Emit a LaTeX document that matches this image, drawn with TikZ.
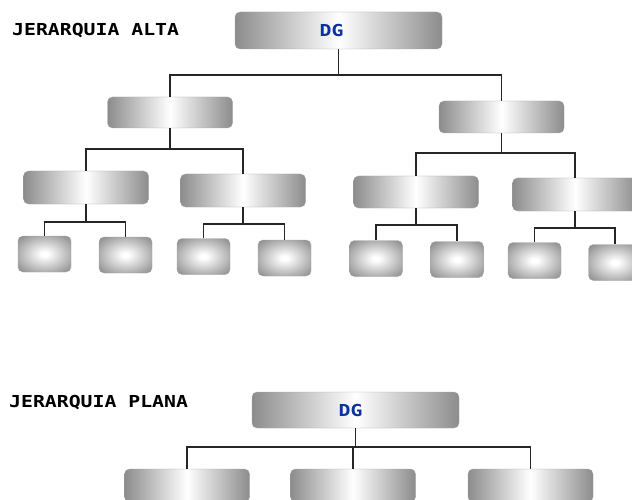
\documentclass[tikz,border=0pt]{standalone}
\usepackage{fontspec}
\usepackage{tikz}
\usetikzlibrary{positioning}
\newfontfamily\pixfont[FakeStretch=1.2]{DejaVu Sans Mono}
\definecolor{dgblue}{RGB}{10, 50, 160}
\definecolor{boxedge}{RGB}{165, 165, 165}
% glow for the small square boxes
\pgfdeclareradialshading{boxglow}{\pgfpoint{0bp}{0bp}}{color(0bp)=(white); color(3bp)=(white); color(34bp)=(black!45); color(50bp)=(black!52)}

\begin{document}
\begin{tikzpicture}[x=1pt, y=-1pt,
  widebox/.style={draw=boxedge, rounded corners=5pt, left color=black!45, right color=black!45, middle color=white, minimum width=125pt, minimum height=32pt, inner sep=0pt},
  smallbox/.style={draw=boxedge, rounded corners=5pt, shading=boxglow, minimum width=53pt, minimum height=36pt, inner sep=0pt},
  link/.style={draw=black!85, line width=1.5pt},
  title/.style={font=\pixfont\bfseries\fontsize{16.5}{18}\selectfont, anchor=west, inner sep=0pt},
  dgtext/.style={font=\pixfont\bfseries\fontsize{16.5}{18}\selectfont, text=dgblue, inner sep=0pt}
]
  \clip (0,0) rectangle (632,500);

  % Tall hierarchy
  \node[title] (alta) at (12, 31) {JERARQUIA ALTA};
  \node[widebox, minimum width=207pt, minimum height=37pt] (dg) at (338.5, 30.5) {};
  \node[dgtext] (dglabel) at ([xshift=-7pt]dg.center) {DG};

  \node[widebox, minimum height=31pt] (a1) at (170, 112.5) {};
  \node[widebox] (a2) at (501.5, 117) {};

  \node[widebox, minimum height=33pt] (b1) at (86, 187.5) {};
  \node[widebox, minimum height=33pt] (b2) at (243, 190.5) {};
  \node[widebox] (b3) at (416, 192) {};
  \node[widebox, minimum height=33pt] (b4) at (575, 194.5) {};

  \node[smallbox] (c1) at (44.5, 254) {};
  \node[smallbox] (c2) at (125.5, 255) {};
  \node[smallbox] (c3) at (203.5, 256.5) {};
  \node[smallbox] (c4) at (284.5, 258) {};
  \node[smallbox] (c5) at (376, 258.5) {};
  \node[smallbox] (c6) at (457, 259.5) {};
  \node[smallbox] (c7) at (534.5, 260.5) {};
  \node[smallbox] (c8) at (615, 262.5) {};

  \draw[link] (dg.south) -- ++(0, 26) -| (a1.north);
  \draw[link] (dg.south) -- ++(0, 26) -| (a2.north);

  \draw[link] (a1.south) -- ++(0, 21) -| (b1.north);
  \draw[link] (a1.south) -- ++(0, 21) -| (b2.north);
  \draw[link] (a2.south) -- ++(0, 20) -| (b3.north);
  \draw[link] (a2.south) -- ++(0, 20) -| (b4.north);

  \draw[link] (b1.south) -- ++(0, 18) -| (c1.north);
  \draw[link] (b1.south) -- ++(0, 18) -| (c2.north);
  \draw[link] (b2.south) -- ++(0, 17) -| (c3.north);
  \draw[link] (b2.south) -- ++(0, 17) -| (c4.north);
  \draw[link] (b3.south) -- ++(0, 17) -| (c5.north);
  \draw[link] (b3.south) -- ++(0, 17) -| (c6.north);
  \draw[link] (b4.south) -- ++(0, 17) -| (c7.north);
  \draw[link] (b4.south) -- ++(0, 17) -| (c8.north);

  % Flat hierarchy
  \node[title] (plana) at (9, 403) {JERARQUIA PLANA};
  \node[widebox, minimum width=207pt, minimum height=36pt] (dgb) at (355.5, 410) {};
  \node[dgtext] (dgblabel) at ([xshift=-5pt]dgb.center) {DG};

  \node[widebox, minimum height=33pt] (p1) at (187, 485.5) {};
  \node[widebox, minimum height=33pt] (p2) at (353, 485.5) {};
  \node[widebox, minimum height=33pt] (p3) at (530.5, 485.5) {};

  \draw[link] (dgb.south) -- ++(0, 19) -| (p1.north);
  \draw[link] (dgb.south) -- ++(0, 19) -| (p2.north);
  \draw[link] (dgb.south) -- ++(0, 19) -| (p3.north);
\end{tikzpicture}
\end{document}
